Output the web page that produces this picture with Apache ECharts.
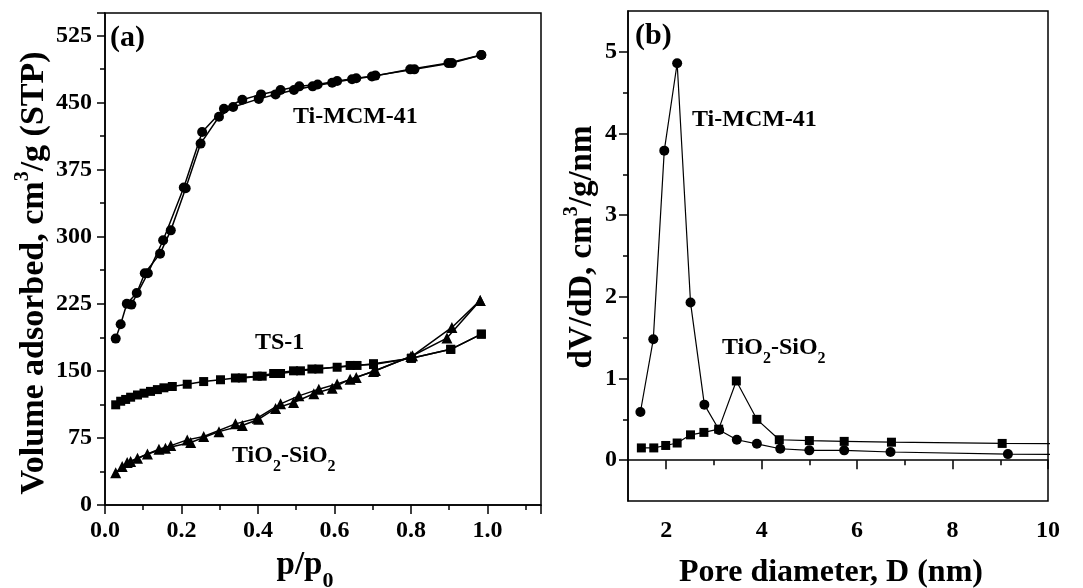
<!DOCTYPE html>
<html>
<head>
<meta charset="utf-8">
<script src="https://cdn.jsdelivr.net/npm/echarts@6/dist/echarts.min.js"></script>
<style>
  html, body { margin: 0; padding: 0; background: #fff; }
  #chart { width: 1083px; height: 588px; }
</style>
</head>
<body>
<div id="chart"></div>
<script>
// (a) N2 isotherms, [p/p0, volume]
const mcmAds = [[0.028,186],[0.041,202],[0.057,225],[0.083,237],[0.104,259],[0.144,281],[0.172,307],[0.211,354],[0.250,404],[0.298,434],[0.335,445],[0.402,454],[0.446,459],[0.494,464],[0.543,468],[0.594,472],[0.646,476],[0.698,479],[0.798,487],[0.898,494],[0.984,503]]
const mcmDes = [[0.984,503],[0.907,494],[0.809,487],[0.707,480],[0.657,477],[0.607,474],[0.556,470],[0.508,468],[0.459,464],[0.408,459],[0.359,453],[0.311,443],[0.254,417],[0.206,355],[0.152,296],[0.112,259],[0.069,224]]
const ts1Ads = [[0.028,112],[0.041,116],[0.054,118],[0.067,120.5],[0.085,123],[0.102,125],[0.119,127],[0.137,129],[0.154,131],[0.176,132.5],[0.215,135],[0.258,138],[0.302,140],[0.341,142],[0.398,144],[0.441,147],[0.493,150],[0.541,152],[0.607,154],[0.659,156],[0.702,158],[0.801,164],[0.904,174],[0.984,191]]
const ts1Des = [[0.984,191],[0.904,174],[0.801,164],[0.702,157],[0.641,156],[0.559,152],[0.511,150],[0.459,147],[0.411,144],[0.359,142]]
const tioAds = [[0.028,36],[0.045,43],[0.067,48.5],[0.111,57],[0.158,63.4],[0.224,69.8],[0.298,82],[0.359,88.8],[0.402,95.9],[0.446,108],[0.493,114.6],[0.546,124.3],[0.594,130.6],[0.641,140.7],[0.702,149.3],[0.800,166],[0.894,186.6],[0.981,228.7]]
const tioDes = [[0.981,228.7],[0.907,198.5],[0.804,166.8],[0.707,150.4],[0.657,142.5],[0.607,135.4],[0.559,129.5],[0.507,122],[0.459,113.1],[0.398,97],[0.341,90.7],[0.258,76.5],[0.215,72.8],[0.172,66.4],[0.141,62.3],[0.085,52.2],[0.058,47.4]]

// (b) pore size distribution, [D nm, dV/dD]
const mcmPsd = [[1.46,0.59],[1.73,1.48],[1.96,3.79],[2.23,4.86],[2.51,1.93],[2.80,0.68],[3.11,0.37],[3.48,0.25],[3.90,0.20],[4.39,0.14],[5.00,0.12],[5.73,0.12],[6.70,0.10],[9.16,0.074],[10.6,0.07]]
const tioPsd = [[1.48,0.15],[1.74,0.15],[1.99,0.18],[2.23,0.21],[2.51,0.31],[2.79,0.34],[3.10,0.38],[3.47,0.97],[3.90,0.50],[4.37,0.25],[5.00,0.24],[5.73,0.23],[6.72,0.22],[9.04,0.205],[10.6,0.2]]

const poreTicks = [2, 4, 6, 8, 10]
const poreMinor = [3, 5, 7, 9]
const dvTicks = [0, 1, 2, 3, 4, 5]
const dvMinor = [0.5, 1.5, 2.5, 3.5, 4.5]

const FONT = 'Liberation Serif'
const chart = echarts.init(document.getElementById('chart'))

const tickLabel = { color: '#000', fontFamily: FONT, fontWeight: 'bold', fontSize: 24 }
const axLine = { show: true, lineStyle: { color: '#000', width: 1.5 } }
const tick = (len) => ({ show: true, length: len, lineStyle: { color: '#000', width: 1.5 } })
const txt = (size, lh) => ({ fontFamily: FONT, fontWeight: 'bold', fontSize: size, color: '#000', lineHeight: lh })
// superscript / subscript rich styles for axis titles
const supRich = (size) => ({
  t: { ...txt(size, size + 4), verticalAlign: 'bottom' },
  u: { ...txt(20, 20), verticalAlign: 'top' }
})
const subRich = {
  t: { ...txt(33, 37), verticalAlign: 'top' },
  s: { ...txt(22, 22), verticalAlign: 'top', padding: [21, 0, 0, 0] }
}
const noteRich = {
  t: { ...txt(24, 24), verticalAlign: 'top' },
  s: { ...txt(16, 16), verticalAlign: 'top', padding: [15, 0, 0, 0] }
}
const labelRich = { t: { ...txt(30, 30), verticalAlign: 'top' } }

const line = (data, symbol, size, xi, yi, w) => ({
  type: 'line', data, symbol, symbolSize: size, xAxisIndex: xi, yAxisIndex: yi,
  itemStyle: { color: '#000' }, lineStyle: { color: '#000', width: w }, clip: true
})

const note = (text, left, top, rich) => ({
  type: 'text', left, top, style: { text, rich, fill: '#000' }
})

chart.setOption({
  animation: false,
  backgroundColor: '#fff',
  textStyle: { fontFamily: FONT },
  grid: [
    { left: 105, top: 13, width: 436, height: 492, outerBoundsMode: 'none', show: true, borderColor: '#000', borderWidth: 1.5 },
    { left: 628, top: 11, width: 420, height: 490, outerBoundsMode: 'none', show: true, borderColor: '#000', borderWidth: 1.5 }
  ],
  xAxis: [
    {
      gridIndex: 0, type: 'value', min: 0, max: 1.14, interval: 0.2,
      axisLine: axLine, axisTick: tick(9), splitLine: { show: false },
      minorTick: { show: true, splitNumber: 2, length: 5, lineStyle: { color: '#000', width: 1.5 } },
      axisLabel: { ...tickLabel, margin: 14, showMaxLabel: false, formatter: v => v.toFixed(1) },
      name: '{t|p/p}{s|0}', nameLocation: 'middle', nameGap: 44,
      nameTextStyle: { rich: subRich, padding: [0, 36, 0, 0] }
    },
    {
      gridIndex: 1, type: 'value', min: 1.2, max: 10,
      axisLine: axLine, splitLine: { show: false },
      axisTick: { ...tick(9), customValues: poreTicks },
      axisLabel: { ...tickLabel, margin: 18, customValues: poreTicks },
      name: 'Pore diameter, D (nm)', nameLocation: 'middle', nameGap: 55,
      nameTextStyle: { ...txt(32, 34), padding: [0, 14, 0, 0] }
    },
    {
      gridIndex: 1, type: 'value', min: 1.2, max: 10, position: 'bottom',
      axisLine: { show: false }, splitLine: { show: false }, axisLabel: { show: false },
      axisTick: { ...tick(5), customValues: poreMinor }
    }
  ],
  yAxis: [
    {
      gridIndex: 0, type: 'value', min: 0, max: 550, interval: 75,
      axisLine: axLine, axisTick: tick(8), splitLine: { show: false },
      minorTick: { show: true, splitNumber: 2, length: 5, lineStyle: { color: '#000', width: 1.5 } },
      axisLabel: { ...tickLabel, margin: 13, showMaxLabel: false },
      name: '{t|Volume adsorbed, cm}{u|3}{t|/g (STP)}', nameLocation: 'middle', nameGap: 54,
      nameTextStyle: { rich: supRich(34), padding: [0, 28, 0, 0] }
    },
    {
      gridIndex: 1, type: 'value', min: -0.5, max: 5.5,
      axisLine: axLine, splitLine: { show: false },
      axisTick: { ...tick(9), customValues: dvTicks },
      axisLabel: { ...tickLabel, margin: 11, customValues: dvTicks },
      name: '{t|dV/dD, cm}{u|3}{t|/g/nm}', nameLocation: 'middle', nameGap: 29,
      nameTextStyle: { rich: supRich(33), padding: [0, 0, 0, 18] }
    },
    {
      gridIndex: 1, type: 'value', min: -0.5, max: 5.5, position: 'left',
      axisLine: { show: false }, splitLine: { show: false }, axisLabel: { show: false },
      axisTick: { ...tick(5), customValues: dvMinor }
    }
  ],
  graphic: [
    note('{t|(a)}', 110, 23, labelRich),
    note('{t|Ti-MCM-41}', 293, 105, noteRich),
    note('{t|TS-1}', 255, 331, noteRich),
    note('{t|TiO}{s|2}{t|-SiO}{s|2}', 232, 444, noteRich),
    note('{t|(b)}', 635, 21, labelRich),
    note('{t|Ti-MCM-41}', 692, 108, noteRich),
    note('{t|TiO}{s|2}{t|-SiO}{s|2}', 722, 336, noteRich)
  ],
  series: [
    line(mcmAds, 'circle', 10, 0, 0, 1.5),
    line(mcmDes, 'circle', 10, 0, 0, 1.5),
    line(ts1Ads, 'rect', 9, 0, 0, 1.5),
    line(ts1Des, 'rect', 9, 0, 0, 1.5),
    line(tioAds, 'triangle', 11, 0, 0, 1.5),
    line(tioDes, 'triangle', 11, 0, 0, 1.5),
    line(mcmPsd, 'circle', 10, 1, 1, 1.2),
    line(tioPsd, 'rect', 9, 1, 1, 1.2)
  ]
})
window.addEventListener('resize', () => chart.resize())
</script>
</body>
</html>
